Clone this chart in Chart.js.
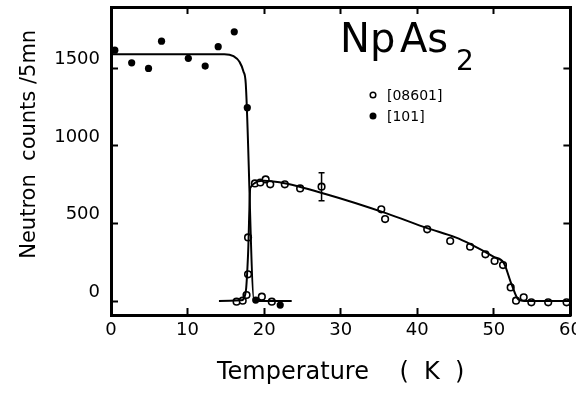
<!DOCTYPE html>
<html>
<head>
<meta charset="utf-8">
<script src="https://cdn.jsdelivr.net/npm/chart.js@4"></script>
<style>
  html, body { margin: 0; padding: 0; background: #fff; overflow: hidden; }
</style>
</head>
<body>
<canvas id="myChart" width="576" height="393"></canvas>
<script>
// temperature (K) and neutron counts
var openT = [16.4, 17.2, 17.7, 17.9, 17.9, 18.8, 19.5, 20.2, 20.8, 22.7, 24.7, 27.5, 35.3, 35.8, 41.3, 44.3, 46.9, 48.9, 50.1, 51.2, 52.2, 52.9, 53.9, 54.9, 57.1, 59.5, 19.7, 21.0];
var openN = [-4, 2, 39, 172, 410, 758, 764, 784, 752, 752, 726, 737, 591, 528, 462, 387, 350, 301, 258, 232, 88, 2, 24, -8, -8, -8, 28, -4];

var filledT = [0.5, 2.7, 4.9, 6.6, 10.1, 12.3, 14.0, 16.1, 17.8, 18.9, 22.1];
var filledN = [1617, 1535, 1499, 1675, 1564, 1514, 1639, 1735, 1246, 6, -26];

// hand drawn fit curves
var fitFilledT = [0, 14.8, 16.0, 16.8, 17.3, 17.6, 18.7, 23.6];
var fitFilledN = [1591, 1591, 1578, 1540, 1480, 1400, 0, 0];
var fitOpenT = [14.1, 17.0, 17.6, 17.9, 18.2, 20.0, 22.0, 28.0, 36.0, 41.3, 45.0, 47.0, 50.0, 51.3, 52.3, 53.2, 54.0, 60.0];
var fitOpenN = [0, 5, 60, 300, 730, 775, 765, 690, 565, 470, 410, 365, 285, 245, 110, 10, 0, 0];

// error bar on the point at 27.5 K
var errT = 27.5, errLow = 646, errHigh = 827;

var xTicks = [0, 10, 20, 30, 40, 50, 60];
var yTicks = [0, 500, 1000, 1500];

function pts(xs, ys) {
  return xs.map(function (x, i) { return {x: x, y: ys[i]}; });
}
function setTicks(list) {
  return function (scale) { scale.ticks = list.map(function (v) { return {value: v}; }); };
}
function plain(v) { return String(v); }

var font = 'DejaVu Sans';
var gridOpts = {drawOnChartArea: false, tickLength: -7, tickWidth: 2, color: '#000'};
var borderOpts = {width: 3, color: '#000'};

var extras = {
  id: 'extras',
  afterDatasetsDraw: function (chart) {
    var ctx = chart.ctx;
    var xs = chart.scales.x, ys = chart.scales.y;
    ctx.save();
    ctx.strokeStyle = '#000';
    ctx.fillStyle = '#000';
    ctx.lineWidth = 1.5;
    // error bar
    var ex = xs.getPixelForValue(errT);
    var y1 = ys.getPixelForValue(errLow), y2 = ys.getPixelForValue(errHigh);
    ctx.beginPath();
    ctx.moveTo(ex, y1); ctx.lineTo(ex, y2);
    ctx.moveTo(ex - 3, y1); ctx.lineTo(ex + 3, y1);
    ctx.moveTo(ex - 3, y2); ctx.lineTo(ex + 3, y2);
    ctx.stroke();

    // compound name
    ctx.textBaseline = 'alphabetic';
    ctx.textAlign = 'left';
    ctx.font = '40px ' + font;
    ctx.fillText('Np', 340, 52);
    ctx.fillText('As', 400, 52);
    ctx.font = '28px ' + font;
    ctx.fillText('2', 456, 70);

    // legend
    ctx.lineWidth = 1.5;
    ctx.beginPath();
    ctx.arc(373, 95, 2.8, 0, Math.PI * 2);
    ctx.stroke();
    ctx.beginPath();
    ctx.arc(373, 116, 3.5, 0, Math.PI * 2);
    ctx.fill();
    ctx.font = '14px ' + font;
    ctx.fillText('[08601]', 387, 100);
    ctx.fillText('[101]', 387, 121);
    ctx.restore();
  }
};

var ctx = document.getElementById('myChart').getContext('2d');
var chart = new Chart(ctx, {
  type: 'scatter',
  data: {
    datasets: [{
      data: pts(fitFilledT, fitFilledN),
      showLine: true,
      borderColor: '#000',
      borderWidth: 2,
      pointRadius: 0,
      cubicInterpolationMode: 'monotone'
    }, {
      data: pts(fitOpenT, fitOpenN),
      showLine: true,
      borderColor: '#000',
      borderWidth: 2,
      pointRadius: 0,
      cubicInterpolationMode: 'monotone'
    }, {
      label: '[08601]',
      data: pts(openT, openN),
      pointRadius: 3.3,
      pointBorderWidth: 1.6,
      pointBorderColor: '#000',
      pointBackgroundColor: '#fff'
    }, {
      label: '[101]',
      data: pts(filledT, filledN),
      pointRadius: 3.6,
      pointBorderWidth: 0,
      pointBackgroundColor: '#000'
    }]
  },
  options: {
    responsive: false,
    animation: false,
    layout: {padding: 0},
    plugins: {legend: {display: false}, tooltip: {enabled: false}},
    scales: {
      x: {
        type: 'linear', position: 'bottom', min: 0, max: 60,
        afterBuildTicks: setTicks(xTicks),
        afterFit: function (s) { s.height = 78; s.paddingLeft = 0; s.paddingRight = 0; },
        grid: gridOpts, border: borderOpts,
        ticks: {color: '#000', padding: 12, callback: plain, font: {family: font, size: 18}},
        title: {display: true, text: 'Temperature    (  K  )', color: '#000',
                font: {family: font, size: 24}, padding: {top: 0, bottom: 6}}
      },
      y: {
        type: 'linear', position: 'left', min: -90, max: 1895,
        afterBuildTicks: setTicks(yTicks),
        afterFit: function (s) { s.width = 111; s.paddingTop = 0; s.paddingBottom = 0; },
        grid: gridOpts, border: borderOpts,
        ticks: {color: '#000', padding: 18, labelOffset: -9, callback: plain, font: {family: font, size: 18}},
        title: {display: true, text: '     Neutron  counts /5mn', color: '#000',
                font: {family: font, size: 21}, padding: {top: 17, bottom: 0}}
      },
      x2: {
        type: 'linear', position: 'top', min: 0, max: 60,
        afterBuildTicks: setTicks(xTicks),
        afterFit: function (s) { s.height = 7; s.paddingLeft = 0; s.paddingRight = 0; },
        grid: gridOpts, border: borderOpts,
        ticks: {display: false}
      },
      y2: {
        type: 'linear', position: 'right', min: -90, max: 1895,
        afterBuildTicks: setTicks(yTicks),
        afterFit: function (s) { s.width = 3; s.paddingTop = 0; s.paddingBottom = 0; },
        grid: gridOpts, border: borderOpts,
        ticks: {display: false}
      }
    }
  },
  plugins: [extras]
});
</script>
</body>
</html>
